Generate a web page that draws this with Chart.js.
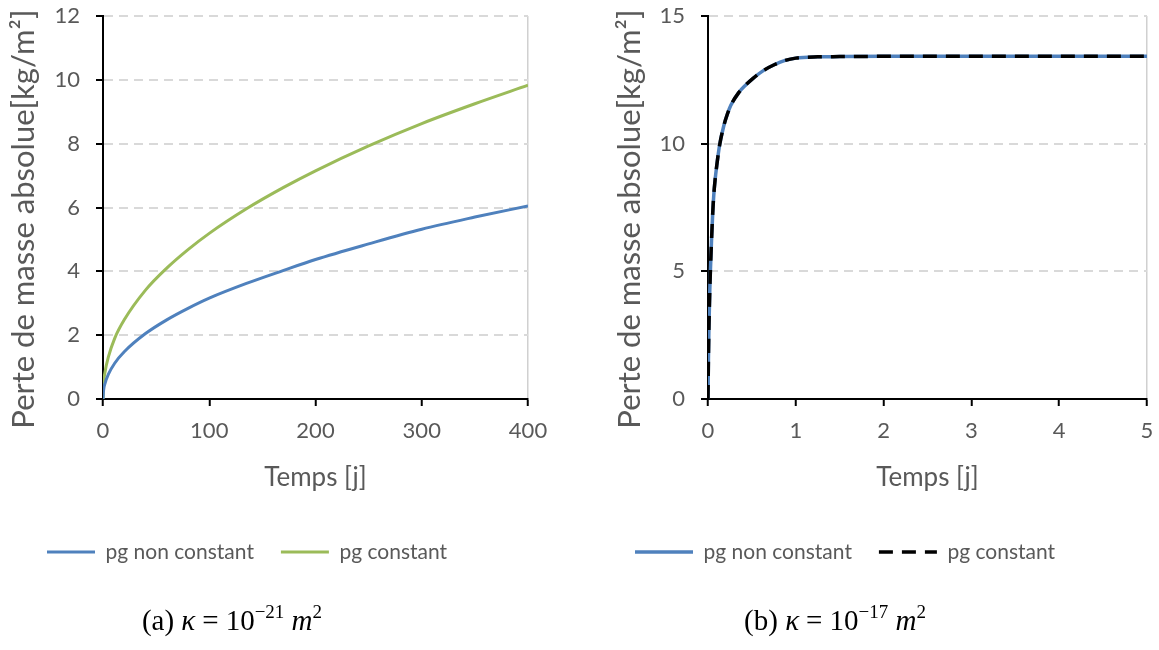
<!DOCTYPE html>
<html lang="fr">
<head>
<meta charset="utf-8">
<script src="https://cdn.jsdelivr.net/npm/chart.js@4.4.1/dist/chart.umd.min.js"></script>
<style>
    html, body { margin: 0; padding: 0; background: #fff; }
    body { width: 1159px; height: 650px; position: relative; overflow: hidden; }
    canvas { position: absolute; top: 0; }
    #grafico-a { left: 0; }
    #grafico-b { left: 580px; }
    .legende {
        position: absolute; top: 604px; width: 300px; text-align: center;
        font-family: "Liberation Serif", "DejaVu Serif", serif; font-size: 29px; color: #000;
    }
    .legende sup { font-size: 19px; vertical-align: 0; position: relative; top: -12px; }
    .legende .eq { margin: 0 7px; }
    #legende-a { left: 82px; }
    #legende-b { left: 685px; }
</style>
</head>
<body>
<canvas id="grafico-a" width="580" height="650"></canvas>
<canvas id="grafico-b" width="579" height="650"></canvas>
<div class="legende" id="legende-a">(a) <i>κ</i><span class="eq">=</span>10<sup>−21</sup> <i>m</i><sup>2</sup></div>
<div class="legende" id="legende-b">(b) <i>κ</i><span class="eq">=</span>10<sup>−17</sup> <i>m</i><sup>2</sup></div>

<script>
// (a) kappa = 1e-21 m2 : temps en jours, perte de masse en kg/m2
const TEMPS_A = [0, 0.5, 2, 5, 11, 20, 40, 60, 80, 100, 135, 170, 200, 250, 300, 350, 400];
const NON_CONSTANT_A = [0, 0.26, 0.5, 0.77, 1.12, 1.48, 2.05, 2.48, 2.84, 3.16, 3.62, 4.03, 4.37, 4.86, 5.32, 5.7, 6.05];
const CONSTANT_A = [0, 0.45, 0.86, 1.31, 1.9, 2.48, 3.41, 4.1, 4.68, 5.19, 5.96, 6.63, 7.15, 7.93, 8.63, 9.25, 9.83];

// (b) kappa = 1e-17 m2
const TEMPS_B = [0, 0.005, 0.01, 0.02, 0.027, 0.04, 0.054, 0.065, 0.08, 0.1, 0.13, 0.18, 0.22, 0.26, 0.35, 0.43, 0.51, 0.63, 0.76, 0.88, 1.0, 1.25, 1.5, 2, 3, 4, 5];
const NON_CONSTANT_B = [0, 1.6, 2.7, 4.2, 5.0, 6.2, 7.3, 7.95, 8.55, 9.15, 9.9, 10.7, 11.15, 11.5, 12.0, 12.3, 12.55, 12.86, 13.1, 13.26, 13.35, 13.4, 13.41, 13.42, 13.42, 13.42, 13.42];
const CONSTANT_B = [0, 1.6, 2.7, 4.2, 5.0, 6.2, 7.3, 7.95, 8.55, 9.15, 9.9, 10.7, 11.15, 11.5, 12.0, 12.3, 12.55, 12.86, 13.1, 13.26, 13.35, 13.4, 13.41, 13.42, 13.42, 13.42, 13.42];

const TICKS_X_A = [0, 100, 200, 300, 400];
const TICKS_Y_A = [0, 2, 4, 6, 8, 10, 12];
const TICKS_X_B = [0, 1, 2, 3, 4, 5];
const TICKS_Y_B = [0, 5, 10, 15];

const LABELS = ['pg non constant', 'pg constant'];
const TITRE_X = 'Temps [j]';
// l'espace cadratin final décale le titre vers le bas, comme dans Excel
const TITRE_Y = 'Perte de masse absolue[kg/m²]\u2003';

const GRIS = '#595959';
const POLICE = 'Lato';

function points(xs, ys) {
    return xs.map((x, i) => ({ x: x, y: ys[i] }));
}

function stepDe(ticks) {
    return ticks[1] - ticks[0];
}

// la légende reprend le pointillé de la courbe
function etiquettes(chart) {
    return Chart.defaults.plugins.legend.labels.generateLabels(chart).map(item => {
        const ds = chart.data.datasets[item.datasetIndex];
        return { ...item, lineDash: ds.borderDash || [], lineWidth: ds.borderWidth };
    });
}

// un graphique = deux courbes, axes façon Excel
function criarGrafico(id, cfg) {
    const ctx = document.getElementById(id).getContext('2d');
    return new Chart(ctx, {
        type: 'line',
        data: { datasets: cfg.datasets },
        options: {
            responsive: false,
            animation: false,
            devicePixelRatio: 1,
            layout: { padding: { left: cfg.padLeft, right: cfg.padRight, top: 16, bottom: 77.5 } },
            elements: { point: { radius: 0 }, line: { cubicInterpolationMode: 'monotone' } },
            plugins: {
                tooltip: { enabled: false },
                legend: {
                    position: 'bottom',
                    align: 'start',
                    labels: {
                        usePointStyle: true,
                        pointStyle: 'line',
                        pointStyleWidth: cfg.boxWidth,
                        padding: 27,
                        color: GRIS,
                        font: { family: POLICE, size: 21 },
                        generateLabels: etiquettes,
                        sort: (a, b) => a.datasetIndex - b.datasetIndex
                    }
                }
            },
            scales: {
                x: {
                    type: 'linear',
                    min: cfg.ticksX[0],
                    max: cfg.ticksX[cfg.ticksX.length - 1],
                    afterFit: (scale) => {
                        scale.height = 115.5;
                        scale.paddingLeft = 0;
                        scale.paddingRight = 0;
                    },
                    ticks: { stepSize: stepDe(cfg.ticksX), color: GRIS, padding: 12, font: { family: POLICE, size: 22 } },
                    grid: {
                        // seule la ligne de droite est visible (bord gris du cadre)
                        color: (c) => c.index === cfg.ticksX.length - 1 ? '#d0d0d0' : 'rgba(0,0,0,0)',
                        lineWidth: 1.5,
                        drawTicks: true,
                        tickLength: 7,
                        tickColor: '#000',
                        tickWidth: 2,
                        tickBorderDash: []
                    },
                    border: { display: true, color: '#000', width: 2, dash: [] },
                    title: {
                        display: true, text: TITRE_X, color: GRIS,
                        font: { family: POLICE, size: 26, lineHeight: 1 },
                        padding: { top: 0, bottom: 23.5 }
                    }
                },
                y: {
                    min: cfg.ticksY[0],
                    max: cfg.ticksY[cfg.ticksY.length - 1],
                    afterFit: (scale) => {
                        scale.width = cfg.largeurY;
                        scale.paddingTop = 0;
                        scale.paddingBottom = 0;
                    },
                    ticks: { stepSize: stepDe(cfg.ticksY), color: GRIS, padding: 16, font: { family: POLICE, size: 22 } },
                    grid: {
                        color: (c) => c.tick && c.tick.value === 0 ? 'rgba(0,0,0,0)' : '#d9d9d9',
                        lineWidth: 2,
                        drawTicks: true,
                        tickLength: 7,
                        tickColor: '#000',
                        tickWidth: 2,
                        tickBorderDash: []
                    },
                    border: { display: true, color: '#000', width: 2, dash: [9, 6] },
                    title: {
                        display: true, text: TITRE_Y, color: GRIS,
                        font: { family: POLICE, size: 31, lineHeight: 1 },
                        padding: { top: cfg.titrePad, bottom: 0 }
                    }
                }
            }
        }
    });
}

criarGrafico('grafico-a', {
    padLeft: 20, padRight: 52, largeurY: 83, titrePad: -12, boxWidth: 48,
    ticksX: TICKS_X_A, ticksY: TICKS_Y_A,
    datasets: [
        { label: LABELS[0], data: points(TEMPS_A, NON_CONSTANT_A), borderColor: '#4F81BD', backgroundColor: '#4F81BD', borderWidth: 3 },
        { label: LABELS[1], data: points(TEMPS_A, CONSTANT_A), borderColor: '#9BBB59', backgroundColor: '#9BBB59', borderWidth: 3 }
    ]
});

criarGrafico('grafico-b', {
    padLeft: 28, padRight: 12, largeurY: 100, titrePad: 6, boxWidth: 58,
    ticksX: TICKS_X_B, ticksY: TICKS_Y_B,
    datasets: [
        { label: LABELS[0], data: points(TEMPS_B, NON_CONSTANT_B), borderColor: '#4F81BD', backgroundColor: '#4F81BD', borderWidth: 3.5, order: 2 },
        { label: LABELS[1], data: points(TEMPS_B, CONSTANT_B), borderColor: '#000', backgroundColor: '#000', borderWidth: 3.5, borderDash: [14, 9], order: 1 }
    ]
});
</script>
</body>
</html>
